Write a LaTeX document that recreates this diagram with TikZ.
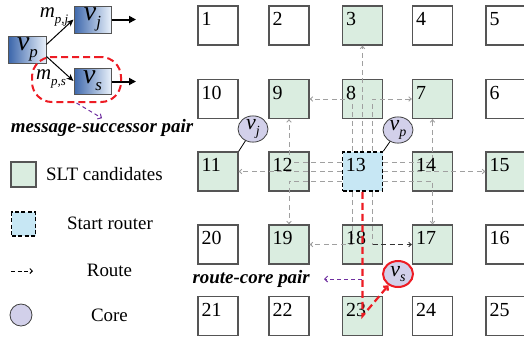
\documentclass[tikz,border=0pt]{standalone}
\usepackage{fontspec}
\setmainfont{Liberation Serif}
\usetikzlibrary{arrows.meta,calc,shapes.geometric}

\definecolor{sltgreen}{RGB}{218,237,224}
\definecolor{startblue}{RGB}{199,231,244}
\definecolor{corelav}{RGB}{210,208,234}
\definecolor{pairpurple}{RGB}{112,48,160}
\definecolor{boxgray}{RGB}{85,85,85}
\definecolor{routegray}{RGB}{160,160,160}
\definecolor{pathred}{RGB}{237,28,36}
\definecolor{msgdark}{RGB}{62,104,172}
\definecolor{msglight}{RGB}{232,240,250}

% italic v with a lowered subscript
\newcommand{\vsb}[2][14]{\textit{v}\raisebox{-0.55ex}{\fontsize{#1}{#1}\selectfont\textit{#2}}}
\newcommand{\msb}[1]{\textit{m}\raisebox{-0.6ex}{\fontsize{13}{13}\selectfont\textit{#1}}}

\tikzset{
  cell/.style={draw=boxgray, line width=1.3bp, minimum width=40bp, minimum height=39bp, inner sep=0pt},
  startcell/.style={draw=black, line width=1.6bp, dash pattern=on 4bp off 2.5bp, fill=startblue, inner sep=0pt},
  num/.style={anchor=north west, inner sep=0pt, font=\fontsize{20}{20}\selectfont},
  route/.style={draw=routegray, line width=0.9bp, dash pattern=on 5bp off 3.5bp,
    -{Straight Barb[length=2.5bp,width=4.5bp]}},
  routeplain/.style={draw=routegray, line width=0.9bp, dash pattern=on 5bp off 3.5bp},
  core/.style={ellipse, draw=black!75, line width=0.8bp, fill=corelav, minimum width=30bp,
    minimum height=26bp, inner sep=0pt, font=\fontsize{22}{22}\selectfont},
  msg/.style={draw=boxgray, line width=1bp, left color=msgdark, right color=msglight,
    minimum width=37bp, minimum height=27bp, inner sep=0pt, font=\fontsize{28}{28}\selectfont},
  pairlabel/.style={font=\fontsize{19}{19}\selectfont\bfseries\itshape, inner sep=1bp},
  legtext/.style={font=\fontsize{19}{19}\selectfont, inner sep=0pt},
  pairarrow/.style={draw=pairpurple, line width=1bp, dash pattern=on 4bp off 3bp,
    -{Straight Barb[length=3bp,width=6bp]}},
}

\begin{document}
\begin{tikzpicture}[x=1bp,y=-1bp]
\useasboundingbox (0,0) rectangle (524,341);

% ---------------- mesh of routers ----------------
\foreach \n/\x/\y/\f in {
  1/218/25.5/white, 2/289/25.5/white, 3/362.5/25.5/sltgreen, 4/432.5/25.5/white, 5/506/25.5/white,
  10/218/99/white, 9/289/99/sltgreen, 8/362.5/99/sltgreen, 7/432.5/99/sltgreen, 6/506/99/white,
  11/218/171.5/sltgreen, 12/289/171.5/sltgreen, 14/432.5/171.5/sltgreen, 15/506/171.5/sltgreen,
  20/218/244.5/white, 19/289/244.5/sltgreen, 18/362.5/244.5/sltgreen, 17/432.5/244.5/sltgreen, 16/506/244.5/white,
  21/218/316/white, 22/289/316/white, 23/362.5/316/sltgreen, 24/432.5/316/white, 25/506/316/white}
{
  \node[cell, fill=\f] (n\n) at (\x,\y) {};
}
\node[startcell, minimum width=40bp, minimum height=39bp] (n13) at (362.5,171.5) {};

% ---------------- routes from the start router ----------------
\draw[route] (n13.north) -- (n3.south);
\draw[route] ([xshift=-10bp]n13.north) |- (n9.east);
\draw[route] ([xshift=10bp]n13.north) |- (n7.west);
\draw[route] (n13.west) -- (n11.east);
\draw[route] ([yshift=9.5bp]n13.west) -| (n9.south);
\draw[route] ([yshift=-9.5bp]n13.west) -| (n19.north);
\draw[route] (n13.east) -- (n15.west);
\draw[route] ([yshift=9.5bp]n13.east) -| (n7.south);
\draw[route] ([yshift=-9.5bp]n13.east) -| (n17.north);
\draw[route] ([xshift=-10bp]n13.south) |- (n19.east);
\path ([xshift=10bp]n13.south) |- coordinate[pos=0.5] (k18) (n17.west);
\draw[routeplain] ([xshift=10bp]n13.south) -- (k18);
\draw[route, draw=black!80] (k18) -- (n17.west);

% ---------------- router numbers ----------------
\foreach \n in {1,...,25}
  \node[num] at ([xshift=4bp,yshift=-7bp]n\n.north west) {\n};

% ---------------- cores ----------------
\node[core] (cj) at (253,129) {\vsb{j}};
\draw[line width=0.8bp] (cj) -- (n11.north east);
\node[core] (cp) at (398,130) {\vsb{p}};
\draw[line width=0.8bp] (cp) -- (n13.north east);
\node[core, draw=pathred, line width=2bp] (cs) at (398,274) {\vsb{s}};

% selected route towards the successor core
\draw[draw=pathred, line width=2.2bp, dash pattern=on 7bp off 4bp,
      -{Straight Barb[length=3bp,width=6bp]}]
  (n13.south) -- (n23.center) -- (cs);

% route-core pair label
\node[pairlabel, anchor=east] (rcp) at (311,279) {route-core pair};
\draw[pairarrow, shorten <=1bp] (n13.south |- rcp.east) -- ([xshift=13bp]rcp.east);

% ---------------- message graph ----------------
\node[msg] (mp) at (27.5,49.5) {\vsb[17]{p}};
\node[msg] (mj) at (92.5,19.5) {\vsb[17]{j}};
\node[msg, minimum height=26bp] (ms) at (92.5,81) {\vsb[17]{s}};
\draw[line width=1bp, -{Stealth[length=7bp,width=6bp]}] ([yshift=5bp]mp.east) -- (mj.west);
\draw[line width=1bp, -{Stealth[length=7bp,width=6bp]}] ([yshift=-7bp]mp.east) -- (ms.west);
\coordinate (jout) at (136,19.5);
\coordinate (sout) at (136,81.5);
\draw[line width=2bp, -{Triangle[length=7bp,width=7bp]}] (mj.east) -- (jout);
\draw[line width=2bp, -{Triangle[length=7bp,width=7bp]}] ([yshift=-0.5bp]ms.east) -- (sout);
\node[font=\fontsize{21}{21}\selectfont, inner sep=0pt] (lmj) at (54,17) {\msb{p,j}};
\node[font=\fontsize{21}{21}\selectfont, inner sep=0pt] (lms) at (51,79) {\msb{p,s}};

\node[draw=pathred, line width=2bp, dash pattern=on 7bp off 4bp, rounded corners=20bp,
      minimum width=89bp, minimum height=45bp] (pairbox) at (76.5,79.5) {};
\node[pairlabel] (msp) at (102,128) {message-successor pair};
\draw[pairarrow] (pairbox.south) -- (msp.north);

% ---------------- legend ----------------
\node[draw=boxgray, line width=1.3bp, fill=sltgreen, minimum size=25bp, inner sep=0pt] (lg1) at (23.5,174.5) {};
\node[legtext, anchor=west] (lt1) at (46,174.5) {SLT candidates};
\node[startcell, minimum size=24bp] (lg2) at (23.5,224) {};
\node[legtext] (lt2) at (110,223) {Start router};
\coordinate (la) at (11,271);
\coordinate (lb) at (33,271);
\draw[line width=1bp, dash pattern=on 4bp off 2.5bp, -{Straight Barb[length=2.5bp,width=5bp]}] (la) -- (lb);
\node[legtext] (lt3) at (109.5,270) {Route};
\node[circle, draw=black!75, line width=0.8bp, fill=corelav, minimum size=22bp, inner sep=0pt] (lg4) at (21,315) {};
\node[legtext] (lt4) at (109.5,315) {Core};
\end{tikzpicture}
\end{document}
